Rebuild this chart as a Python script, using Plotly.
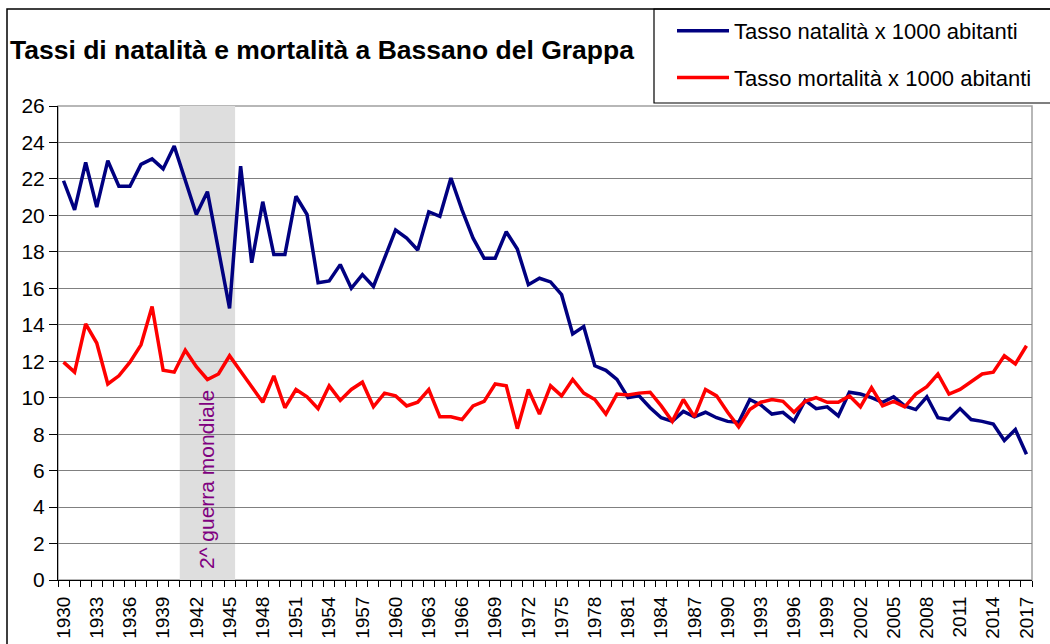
import plotly.graph_objects as go

years = list(range(1930, 2018))

natalita = [
    21.9, 20.3, 22.9, 20.45, 23.0, 21.6, 21.6, 22.8, 23.1, 22.55,
    23.8, 21.95, 20.05, 21.3, 18.1, 14.9, 22.7, 17.4, 20.75, 17.85,
    17.85, 21.05, 20.05, 16.3, 16.4, 17.3, 16.0, 16.75, 16.1, 17.7,
    19.2, 18.75, 18.1, 20.2, 19.95, 22.05, 20.3, 18.75, 17.65, 17.65,
    19.1, 18.15, 16.2, 16.55, 16.35, 15.65, 13.5, 13.9, 11.75, 11.5,
    11.0, 10.0, 10.1, 9.45, 8.9, 8.7, 9.25, 8.95, 9.2, 8.9,
    8.7, 8.65, 9.9, 9.6, 9.1, 9.2, 8.7, 9.85, 9.4, 9.5,
    9.0, 10.3, 10.2, 10.0, 9.75, 10.05, 9.55, 9.35, 10.05, 8.9,
    8.8, 9.4, 8.8, 8.7, 8.55, 7.65, 8.25, 6.9,
]

mortalita = [
    11.95, 11.4, 14.05, 13.0, 10.75, 11.2, 11.95, 12.9, 15.0, 11.5,
    11.4, 12.6, 11.7, 11.0, 11.3, 12.3, 11.45, 10.6, 9.75, 11.2,
    9.45, 10.45, 10.05, 9.4, 10.65, 9.85, 10.45, 10.85, 9.5, 10.25,
    10.1, 9.55, 9.75, 10.45, 8.95, 8.95, 8.8, 9.55, 9.8, 10.75,
    10.65, 8.3, 10.45, 9.1, 10.65, 10.1, 11.0, 10.25, 9.9, 9.1,
    10.2, 10.15, 10.25, 10.3, 9.55, 8.7, 9.9, 8.95, 10.45, 10.1,
    9.2, 8.4, 9.35, 9.75, 9.9, 9.8, 9.2, 9.8, 10.0, 9.75,
    9.75, 10.1, 9.5, 10.55, 9.55, 9.8, 9.5, 10.2, 10.6, 11.3,
    10.2, 10.45, 10.85, 11.3, 11.4, 12.3, 11.85, 12.85,
]

tick_years = years[::3]
tick_labels = [str(y) for y in tick_years]

war_start, war_end = 1940.5, 1945.5
title_text = "Tassi di natalità e mortalità a Bassano del Grappa"
war_label = "2^ guerra mondiale"
names = ["Tasso natalità x 1000 abitanti", "Tasso mortalità x 1000 abitanti"]

W, H = 1050, 644
ML, MR, MT, MB = 58, 18, 106, 64
PW, PH = W - ML - MR, H - MT - MB


def px_x(x):
    return (x - ML) / PW


def px_y(y):
    return (H - MB - y) / PH


FONT = "Liberation Sans, Arial, sans-serif"

fig = go.Figure()
fig.add_trace(go.Scatter(x=years, y=natalita, mode="lines", name=names[0],
                         legendgroup="a",
                         line=dict(color="#000080", width=3.5)))
fig.add_trace(go.Scatter(x=years, y=mortalita, mode="lines", name=names[1],
                         legendgroup="b",
                         line=dict(color="#FF0000", width=3.5)))

shapes = [
    dict(type="rect", xref="x", yref="y", x0=war_start, x1=war_end, y0=0, y1=26,
         fillcolor="#dedede", line=dict(width=0), layer="below"),
    dict(type="rect", xref="paper", yref="paper", x0=0, x1=1, y0=0, y1=1,
         line=dict(color="#a0a0a0", width=1.5), layer="below"),
    dict(type="rect", xref="paper", yref="paper", x0=px_x(7), x1=px_x(1070),
         y0=px_y(670), y1=px_y(9), line=dict(color="black", width=1.5)),
    dict(type="rect", xref="paper", yref="paper", x0=px_x(654), x1=px_x(1070),
         y0=px_y(103), y1=px_y(9), line=dict(color="black", width=1.2)),
]

annotations = [
    dict(text="<b>" + title_text + "</b>", xref="paper", yref="paper",
         x=px_x(8), y=px_y(50), xanchor="left", yanchor="middle",
         showarrow=False, font=dict(family=FONT, size=26.5, color="black")),
    dict(text=war_label, xref="x", yref="y", x=1942.9, y=5.5, textangle=-90,
         showarrow=False, xanchor="center", yanchor="middle",
         font=dict(family=FONT, size=21, color="#800080")),
]

fig.update_layout(
    width=W, height=H,
    margin=dict(l=ML, r=MR, t=MT, b=MB, pad=0, autoexpand=False),
    paper_bgcolor="white", plot_bgcolor="white",
    font=dict(family=FONT, color="black"),
    shapes=shapes, annotations=annotations,
    showlegend=True,
    legend=dict(x=px_x(672), y=px_y(10), xanchor="left", yanchor="top",
                bgcolor="rgba(0,0,0,0)", borderwidth=0, itemwidth=52,
                font=dict(family=FONT, size=22, color="black"),
                traceorder="grouped", tracegroupgap=15),
    xaxis=dict(range=[1929.5, 2017.5], tickmode="array", tickvals=tick_years,
               ticktext=tick_labels, tickangle=-90, showgrid=False, zeroline=False,
               automargin=False,
               showline=True, linecolor="black", linewidth=1,
               ticks="outside", ticklen=6, tickcolor="rgba(0,0,0,0)",
               ticklabelstandoff=2,
               tickfont=dict(family=FONT, size=19, color="black"),
               minor=dict(ticks="outside", ticklen=6, tickcolor="black", tickwidth=1,
                          tickmode="linear", tick0=1929.5, dtick=1, showgrid=False)),
    yaxis=dict(range=[0, 26], dtick=2, tick0=0, showgrid=True, gridcolor="#808080",
               gridwidth=1, zeroline=False, showline=True, linecolor="black",
               automargin=False,
               linewidth=1, ticks="outside", ticklen=8, tickcolor="black",
               tickfont=dict(family=FONT, size=21, color="black")),
)

fig.write_html("out.html", config={"displayModeBar": False},
               post_script="document.body.style.margin='0';document.body.style.overflow='hidden';")
